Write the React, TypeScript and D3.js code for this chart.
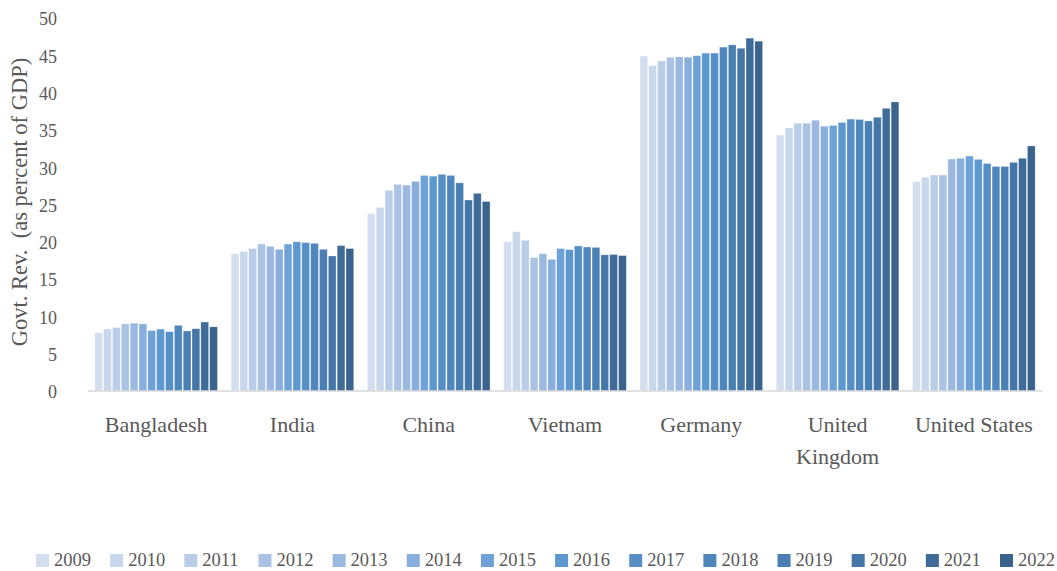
import React from "react";
import * as d3 from "d3";

const categories = ["Bangladesh", "India", "China", "Vietnam", "Germany", "United Kingdom", "United States"];
const years = ["2009", "2010", "2011", "2012", "2013", "2014", "2015", "2016", "2017", "2018", "2019", "2020", "2021", "2022"];

const bangladesh = [7.8, 8.3, 8.5, 9.0, 9.1, 9.0, 8.1, 8.3, 7.95, 8.8, 8.05, 8.35, 9.25, 8.6];
const india = [18.4, 18.7, 19.1, 19.7, 19.4, 19.0, 19.7, 20.0, 19.9, 19.8, 19.0, 18.1, 19.5, 19.1];
const china = [23.8, 24.6, 26.9, 27.7, 27.6, 28.1, 28.9, 28.8, 29.05, 28.9, 27.9, 25.6, 26.5, 25.4];
const vietnam = [20.0, 21.35, 20.2, 17.9, 18.4, 17.65, 19.1, 18.95, 19.45, 19.3, 19.25, 18.25, 18.3, 18.15];
const germany = [44.9, 43.6, 44.25, 44.75, 44.8, 44.75, 44.95, 45.3, 45.3, 46.1, 46.4, 45.95, 47.3, 46.9];
const unitedKingdom = [34.3, 35.25, 35.9, 35.9, 36.3, 35.5, 35.6, 36.0, 36.45, 36.4, 36.2, 36.7, 37.9, 38.75];
const unitedStates = [28.05, 28.65, 28.95, 28.95, 31.1, 31.2, 31.5, 31.05, 30.5, 30.1, 30.1, 30.65, 31.2, 32.85];

const seriesByCountry = [bangladesh, india, china, vietnam, germany, unitedKingdom, unitedStates];

const yearColors = [
  "#d3deef", "#c7d7ec", "#b9cde8", "#aac3e4", "#9bb9e0", "#87aedc", "#6ea1d7",
  "#5d98d0", "#568fc6", "#4f87bc", "#4a7fb3", "#4576a8", "#3f6b99", "#3a648e",
];

const yTicks = [0, 5, 10, 15, 20, 25, 30, 35, 40, 45, 50];

const W = 1057;
const H = 571;
const FONT = "'Liberation Serif', 'DejaVu Serif', serif";
const TEXT = "#595959";

export default function App() {
  const x0 = d3.scaleBand<string>().domain(categories).range([88, 1042]).paddingInner(0.1).paddingOuter(0.05);
  const x1 = d3.scaleBand<string>().domain(years).range([0, x0.bandwidth()]).paddingInner(0.12);
  const y = d3.scaleLinear().domain([0, 50]).range([391, 18]);

  const labelFont = 22;
  const wrap = (s: string) => {
    const est = s.length * labelFont * 0.46;
    if (est > x0.step()) {
      const parts = s.split(" ");
      return [parts[0], parts.slice(1).join(" ")];
    }
    return [s];
  };

  const legendStep = (1000 - 36) / (years.length - 1);

  return (
    <svg width={W} height={H} style={{ position: "absolute", left: 0, top: 0, background: "#fff" }} fontFamily={FONT}>
      <rect x={0} y={0} width={W} height={H} fill="#fff" />
      {/* y ticks */}
      {yTicks.map((t) => (
        <text key={t} x={57} y={y(t) + 1} dy="0.35em" textAnchor="end" fontSize={18} fill={TEXT}>
          {t}
        </text>
      ))}
      {/* y title */}
      <text
        transform={`translate(27, 202) rotate(-90)`}
        textAnchor="middle"
        fontSize={22.5}
        fill={TEXT}
        style={{ whiteSpace: "pre" }}
      >
        {"Govt. Rev.  (as percent of GDP)"}
      </text>
      {/* bars */}
      {categories.map((c, ci) => (
        <g key={c} transform={`translate(${x0(c)},0)`}>
          {seriesByCountry[ci].map((v, yi) => (
            <rect
              key={yi}
              x={x1(years[yi])}
              y={y(v)}
              width={x1.bandwidth()}
              height={y(0) - y(v)}
              fill={yearColors[yi]}
              stroke="#ffffff"
              strokeOpacity={0.5}
              strokeWidth={0.6}
            />
          ))}
        </g>
      ))}
      {/* baseline */}
      <line x1={88} x2={1042} y1={y(0)} y2={y(0)} stroke="#d9d9d9" strokeWidth={1.5} />
      {/* category labels */}
      {categories.map((c) => (
        <text key={c} x={(x0(c) as number) + x0.bandwidth() / 2} y={432} textAnchor="middle" fontSize={labelFont} fill={TEXT}>
          {wrap(c).map((line, i) => (
            <tspan key={i} x={(x0(c) as number) + x0.bandwidth() / 2} dy={i === 0 ? 0 : 32}>
              {line}
            </tspan>
          ))}
        </text>
      ))}
      {/* legend */}
      {years.map((yr, i) => (
        <g key={yr} transform={`translate(${36 + i * legendStep}, 554)`}>
          <rect x={0} y={0} width={13} height={13} fill={yearColors[i]} />
          <text x={18} y={12} fontSize={18.5} fill={TEXT}>
            {yr}
          </text>
        </g>
      ))}
    </svg>
  );
}
